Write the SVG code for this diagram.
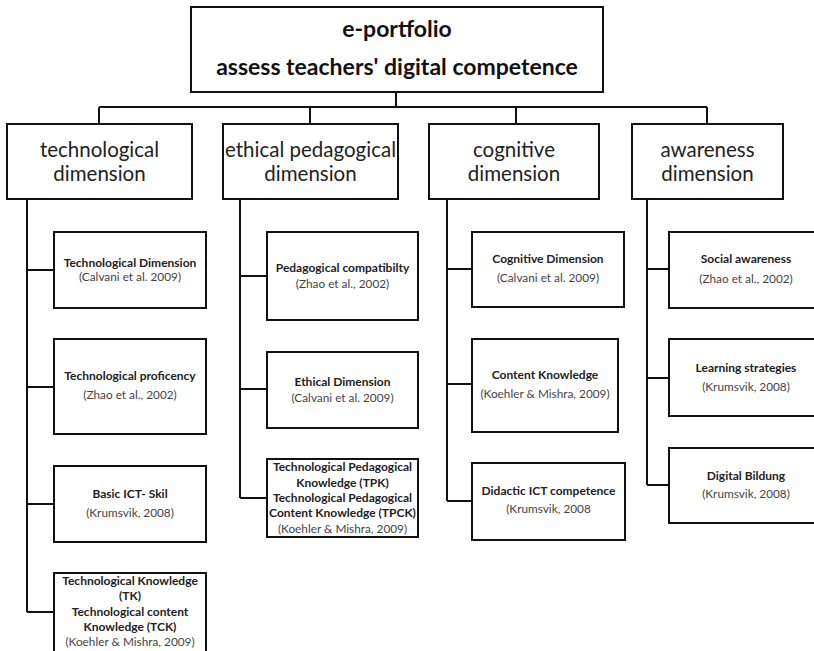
<svg xmlns="http://www.w3.org/2000/svg" width="814" height="651" viewBox="0 0 814 651">
<style>
.box{fill:#fff;stroke:#111;stroke-width:2}
.ln{fill:none;stroke:#111;stroke-width:2}
.t{font-family:Lato,"Liberation Sans",sans-serif;text-anchor:middle}
.title{font-size:23px;font-weight:bold;fill:#111}
.dim{font-size:20.5px;fill:#222}
.b{font-size:12px;font-weight:bold;fill:#222}
.c{font-size:11.8px;fill:#444}
</style>
<rect width="814" height="651" fill="#fff"/>
<g id="connectors">
<path class="ln" d="M396 92V107M99 107H707M99 107V124M310 107V124M516 107V124M707 107V124"/>
<path class="ln" d="M27 199V612M27 270H54M27 387H54M27 504H54M27 612H54"/>
<path class="ln" d="M240 199V498M240 276H267M240 389H267M240 498H267"/>
<path class="ln" d="M447 199V501M447 269H472M447 384H472M447 501H472"/>
<path class="ln" d="M647 199V485M647 269H669M647 378H669M647 485H669"/>
</g>
<g id="root">
<rect class="box" x="191" y="7" width="412" height="85"/>
<text class="t title" x="397" y="37">e-portfolio</text>
<text class="t title" x="397" y="75">assess teachers' digital competence</text>
</g>
<g id="dim-tech">
<rect class="box" x="7" y="124" width="185" height="75"/>
<text class="t dim" x="99.5" y="157">technological</text>
<text class="t dim" x="99.5" y="181">dimension</text>
</g>
<g id="dim-ethical">
<rect class="box" x="223" y="124" width="175" height="75"/>
<text class="t dim" x="310.5" y="157">ethical pedagogical</text>
<text class="t dim" x="310.5" y="181">dimension</text>
</g>
<g id="dim-cognitive">
<rect class="box" x="429" y="124" width="170" height="75"/>
<text class="t dim" x="514" y="157">cognitive</text>
<text class="t dim" x="514" y="181">dimension</text>
</g>
<g id="dim-awareness">
<rect class="box" x="632" y="124" width="151" height="75"/>
<text class="t dim" x="707.5" y="157">awareness</text>
<text class="t dim" x="707.5" y="181">dimension</text>
</g>
<g id="tech-1">
<rect class="box" x="54" y="232" width="152" height="76"/>
<text class="t b" x="130" y="267">Technological Dimension</text>
<text class="t c" x="130" y="281">(Calvani et al. 2009)</text>
</g>
<g id="tech-2">
<rect class="box" x="54" y="339" width="152" height="95"/>
<text class="t b" x="130" y="380">Technological proficency</text>
<text class="t c" x="130" y="399">(Zhao et al., 2002)</text>
</g>
<g id="tech-3">
<rect class="box" x="54" y="466" width="152" height="76"/>
<text class="t b" x="130" y="498">Basic ICT- Skil</text>
<text class="t c" x="130" y="517">(Krumsvik, 2008)</text>
</g>
<g id="tech-4">
<rect class="box" x="54" y="573" width="152" height="90"/>
<text class="t b" x="130" y="585">Technological Knowledge</text>
<text class="t b" x="130" y="600">(TK)</text>
<text class="t b" x="130" y="616">Technological content</text>
<text class="t b" x="130" y="631">Knowledge (TCK)</text>
<text class="t c" x="130" y="646">(Koehler &amp; Mishra, 2009)</text>
</g>
<g id="eth-1">
<rect class="box" x="267" y="232" width="151" height="88"/>
<text class="t b" x="342.5" y="272">Pedagogical compatibilty</text>
<text class="t c" x="342.5" y="288">(Zhao et al., 2002)</text>
</g>
<g id="eth-2">
<rect class="box" x="267" y="352" width="151" height="76"/>
<text class="t b" x="342.5" y="386">Ethical Dimension</text>
<text class="t c" x="342.5" y="402">(Calvani et al. 2009)</text>
</g>
<g id="eth-3">
<rect class="box" x="267" y="459" width="151" height="78"/>
<text class="t b" x="342.5" y="471">Technological Pedagogical</text>
<text class="t b" x="342.5" y="487">Knowledge (TPK)</text>
<text class="t b" x="342.5" y="502">Technological Pedagogical</text>
<text class="t b" x="342.5" y="517">Content  Knowledge (TPCK)</text>
<text class="t c" x="342.5" y="533">(Koehler &amp; Mishra, 2009)</text>
</g>
<g id="cog-1">
<rect class="box" x="472" y="232" width="152" height="75"/>
<text class="t b" x="548" y="263">Cognitive Dimension</text>
<text class="t c" x="548" y="282">(Calvani et al. 2009)</text>
</g>
<g id="cog-2">
<rect class="box" x="472" y="339" width="146" height="93"/>
<text class="t b" x="545" y="379">Content  Knowledge</text>
<text class="t c" x="545" y="398">(Koehler &amp; Mishra, 2009)</text>
</g>
<g id="cog-3">
<rect class="box" x="472" y="463" width="153" height="77"/>
<text class="t b" x="548.5" y="495">Didactic ICT competence</text>
<text class="t c" x="548.5" y="513">(Krumsvik, 2008</text>
</g>
<g id="aw-1">
<rect class="box" x="669" y="232" width="155" height="76"/>
<text class="t b" x="746" y="263">Social awareness</text>
<text class="t c" x="746" y="283">(Zhao et al., 2002)</text>
</g>
<g id="aw-2">
<rect class="box" x="669" y="339" width="155" height="77"/>
<text class="t b" x="746" y="372">Learning strategies</text>
<text class="t c" x="746" y="391">(Krumsvik, 2008)</text>
</g>
<g id="aw-3">
<rect class="box" x="669" y="448" width="155" height="75"/>
<text class="t b" x="746" y="480">Digital Bildung</text>
<text class="t c" x="746" y="498">(Krumsvik, 2008)</text>
</g>
</svg>
